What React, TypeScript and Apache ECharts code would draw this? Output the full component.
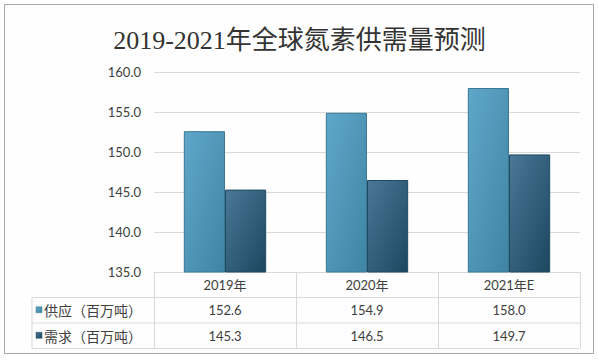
import React, { useEffect, useRef } from "react";
import * as echarts from "echarts";

const title = "2019-2021年全球氮素供需量预测";
const categories = ["2019年", "2020年", "2021年E"];
const seriesNames = ["供应（百万吨）", "需求（百万吨）"];
const supply = [152.6, 154.9, 158.0];
const demand = [145.3, 146.5, 149.7];
const yTicks = { min: 135, max: 160, interval: 5 };

const numFont = "Lato, 'Open Sans', 'Noto Sans CJK SC', sans-serif";
const cjkFont = "'Noto Sans CJK SC', Lato, sans-serif";

const supplyColor = new echarts.graphic.LinearGradient(0, 0, 1, 1, [
  { offset: 0, color: "#5fa7ca" },
  { offset: 1, color: "#3f84a3" },
]);
const demandColor = new echarts.graphic.LinearGradient(0, 0, 1, 1, [
  { offset: 0, color: "#4a7896" },
  { offset: 1, color: "#1b4760" },
]);

export default function App() {
  const ref = useRef<HTMLDivElement>(null);
  useEffect(() => {
    if (!ref.current) return;
    const chart = echarts.init(ref.current, undefined, { renderer: "svg" });
    const gridLeft = 154;
    const gridRight = 580;
    const axisY = 272;
    const rowH = 25.5;
    const tableLeft = 32;
    const lineColor = "#d9d9d9";
    const rowColors = [supplyColor, demandColor];

    const graphics: any[] = [
      {
        type: "rect",
        shape: { x: 4.5, y: 4.5, width: 589, height: 349 },
        style: { fill: "#fefefe", stroke: "#a6a6a6", lineWidth: 1 },
        z: -10,
      },
    ];
    for (let r = 1; r <= 3; r++) {
      const y = axisY + rowH * r;
      graphics.push({
        type: "line",
        shape: { x1: tableLeft, y1: y, x2: gridRight, y2: y },
        style: { stroke: lineColor, lineWidth: 1 },
      });
    }
    graphics.push({
      type: "line",
      shape: { x1: tableLeft, y1: axisY + rowH, x2: tableLeft, y2: axisY + rowH * 3 },
      style: { stroke: lineColor, lineWidth: 1 },
    });
    seriesNames.forEach((name, i) => {
      const cy = axisY + rowH * (i + 1.5);
      graphics.push({
        type: "rect",
        shape: { x: 36, y: cy - 3.5, width: 6, height: 6 },
        style: { fill: rowColors[i], stroke: i === 0 ? "#3a7894" : "#1f4a61", lineWidth: 0.5 },
      });
      graphics.push({
        type: "text",
        x: 44,
        y: cy,
        style: {
          text: name,
          font: `14px ${cjkFont}`,
          fill: "#404040",
          verticalAlign: "middle",
          align: "left",
        },
      });
    });

    chart.setOption({
      animation: false,
      backgroundColor: "#ffffff",
      title: {
        text: title,
        left: "center",
        top: 22,
        textStyle: {
          fontSize: 26,
          fontWeight: "normal",
          color: "#333333",
          fontFamily: "'Liberation Serif', 'Noto Sans CJK SC', serif",
        },
      },
      grid: { left: gridLeft, right: 599 - gridRight, top: 72, bottom: 360 - axisY },
      xAxis: {
        type: "category",
        data: categories,
        axisLine: { lineStyle: { color: lineColor } },
        axisTick: { show: true, length: rowH * 3, lineStyle: { color: lineColor } },
        axisLabel: {
          margin: 0,
          lineHeight: rowH,
          color: "#404040",
          fontSize: 13,
          fontFamily: numFont,
          formatter: (v: string, i: number) =>
            `${v}\n${supply[i].toFixed(1)}\n${demand[i].toFixed(1)}`,
        },
      },
      yAxis: {
        type: "value",
        min: yTicks.min,
        max: yTicks.max,
        interval: yTicks.interval,
        axisLine: { show: false },
        axisTick: { show: false },
        axisLabel: {
          margin: 13,
          color: "#404040",
          fontSize: 13,
          fontFamily: numFont,
          formatter: (v: number) => v.toFixed(1),
        },
        splitLine: { lineStyle: { color: lineColor } },
      },
      series: [
        {
          name: seriesNames[0],
          type: "bar",
          data: supply,
          barGap: "0%",
          barCategoryGap: "42%",
          itemStyle: { color: supplyColor, borderColor: "#3a7894", borderWidth: 1 },
        },
        {
          name: seriesNames[1],
          type: "bar",
          data: demand,
          barGap: "0%",
          barCategoryGap: "42%",
          itemStyle: { color: demandColor, borderColor: "#1f4a61", borderWidth: 1 },
        },
      ],
      graphic: graphics,
    });
    return () => chart.dispose();
  }, []);
  return (
    <div
      ref={ref}
      style={{ position: "absolute", left: 0, top: 0, width: 599, height: 360 }}
    />
  );
}
